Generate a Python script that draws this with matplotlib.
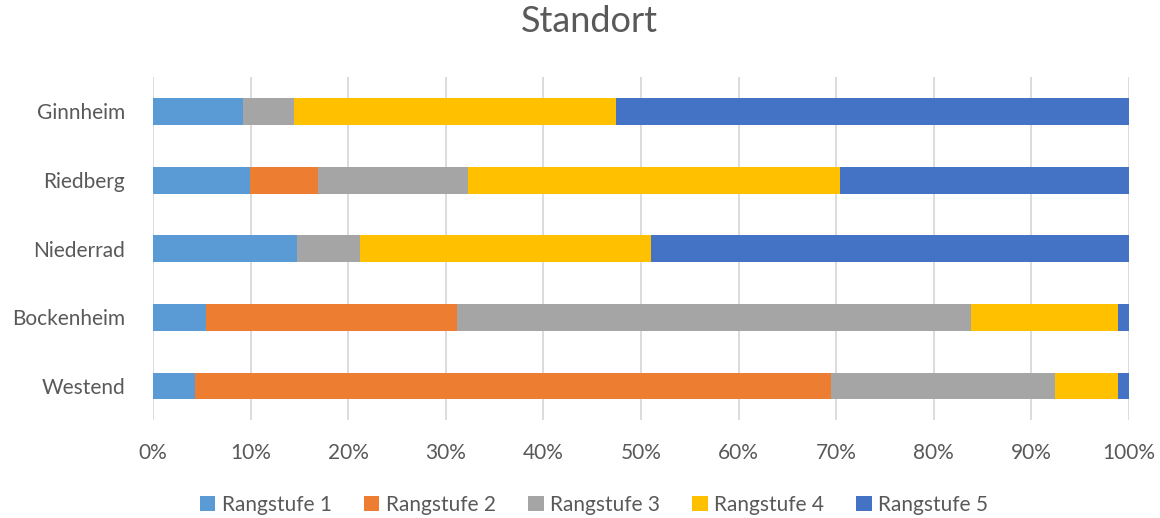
import matplotlib.pyplot as plt
import numpy as np
from matplotlib.ticker import PercentFormatter

plt.rcParams['font.family'] = ['Lato', 'DejaVu Sans']

standorte = ["Westend", "Bockenheim", "Niederrad", "Riedberg", "Ginnheim"]
serien = ["Rangstufe 1", "Rangstufe 2", "Rangstufe 3", "Rangstufe 4", "Rangstufe 5"]

# shares per Standort (percent), bottom to top
rang1 = [4.3, 5.4, 14.8, 9.9, 9.2]
rang2 = [65.2, 25.7, 0.0, 7.0, 0.0]
rang3 = [22.9, 52.7, 6.4, 15.4, 5.2]
rang4 = [6.5, 15.1, 29.8, 38.1, 33.0]
rang5 = [1.1, 1.1, 49.0, 29.6, 52.6]

farben = ["#5B9BD5", "#ED7D31", "#A5A5A5", "#FFC000", "#4472C4"]

fig = plt.figure(figsize=(11.6, 5.18), dpi=100)
ax = fig.add_axes([0.1319, 0.1886, 0.8414, 0.6624])

y = np.arange(len(standorte))
links = np.zeros(len(standorte))
for name, werte, farbe in zip(serien, [rang1, rang2, rang3, rang4, rang5], farben):
    werte = np.array(werte)
    ax.barh(y, werte, left=links, height=0.39, color=farbe, label=name, zorder=3)
    links += werte

ax.set_xlim(0, 100)
ax.set_ylim(-0.5, 4.5)
ax.set_xticks(np.arange(0, 101, 10))
ax.xaxis.set_major_formatter(PercentFormatter(decimals=0))
ax.set_yticks(y)
ax.set_yticklabels(standorte)
ax.grid(axis="x", color="#D9D9D9", linewidth=1.3, zorder=0)
for s in ax.spines.values():
    s.set_visible(False)
ax.tick_params(length=0, labelsize=15, labelcolor="#595959")
ax.tick_params(axis="x", pad=16)
ax.tick_params(axis="y", pad=20)

fig.text(0.508, 1 - 22 / 518, "Standort", fontsize=26, color="#595959",
         ha="center", va="center")

fig.legend(loc="center", bbox_to_anchor=(0.512, 1 - 505 / 518), ncol=5, frameon=False,
           fontsize=15, labelcolor="#595959", handlelength=0.75, handleheight=0.75,
           handletextpad=0.3, columnspacing=1.55)

fig.savefig("out.png", dpi=100)
